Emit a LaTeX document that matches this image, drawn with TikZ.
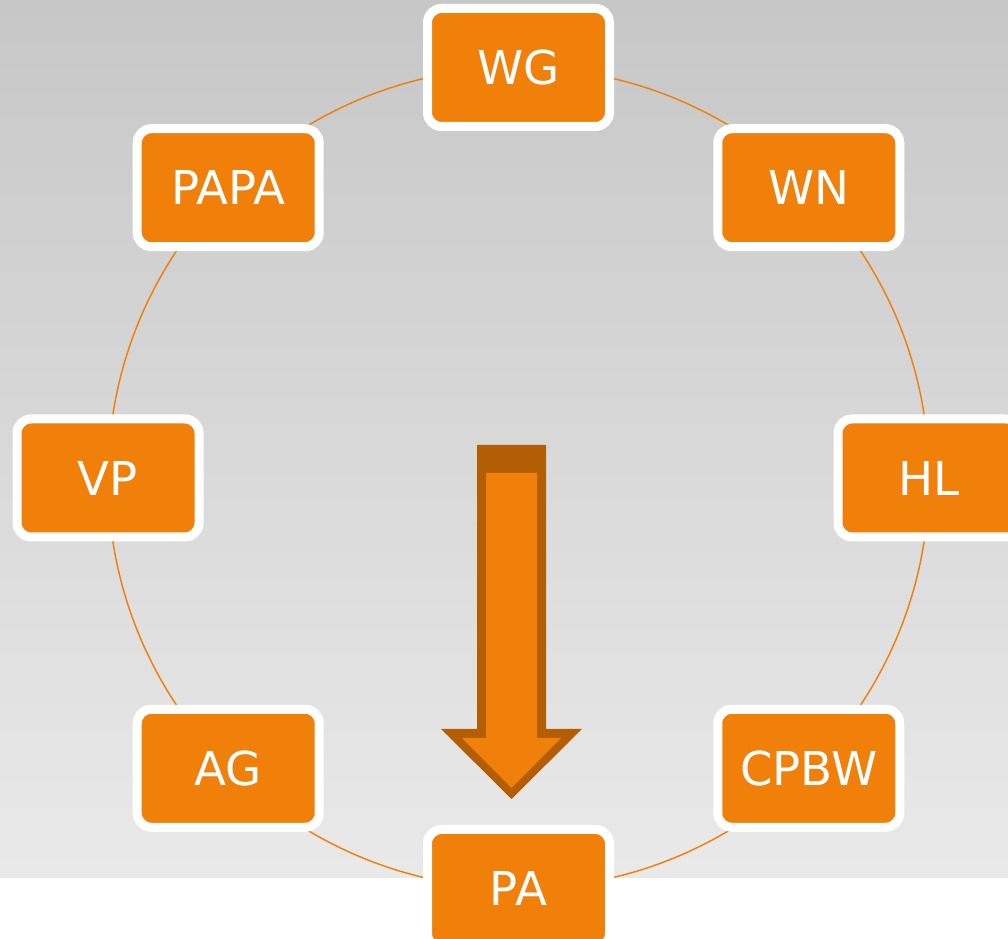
\documentclass[tikz,border=0pt]{standalone}
\usepackage{fontspec}
\setmainfont{DejaVu Sans}
\usetikzlibrary{positioning}
\definecolor{stageorange}{HTML}{F0800A}
\definecolor{stagedark}{HTML}{B35D04}
\tikzset{
  stage/.style={
    draw=white, line width=6.75pt, fill=stageorange, rounded corners=10.5pt,
    minimum width=136.5pt, minimum height=88.5pt, inner sep=0pt,
    text=white, font=\fontsize{35}{41}\selectfont
  }
}

\begin{document}
\begin{tikzpicture}[x=0.75pt, y=0.75pt]
  \clip (0,0) rectangle (1008,939);
  \fill[white] (0,0) rectangle (1008,939);
  \shade[top color=black!22, middle color=black!12, bottom color=black!8.5]
    (0,61) rectangle (1008,939);

  \coordinate (c) at (518.5,461);
  \draw[stageorange, line width=1.1pt] (c) circle[radius=410.5];

  \foreach \n/\t/\a in {wg/WG/90, wn/WN/45, hl/HL/0, cpbw/CPBW/-45,
                        pa/PA/-90, ag/AG/-135, vp/VP/180, papa/PAPA/135} {
    \path (c) ++(\a:410.5) node[stage] (\n) {\t};
  }

  % block arrow down to PA
  \fill[stagedark] (477,494) -- (546,494) -- (546,210) -- (582,210)
    -- (511.5,140) -- (441,210) -- (477,210) -- cycle;
  \fill[stageorange] (486,466) -- (537,466) -- (537,201) -- (561,201)
    -- (511.5,151) -- (462,201) -- (486,201) -- cycle;
\end{tikzpicture}
\end{document}
